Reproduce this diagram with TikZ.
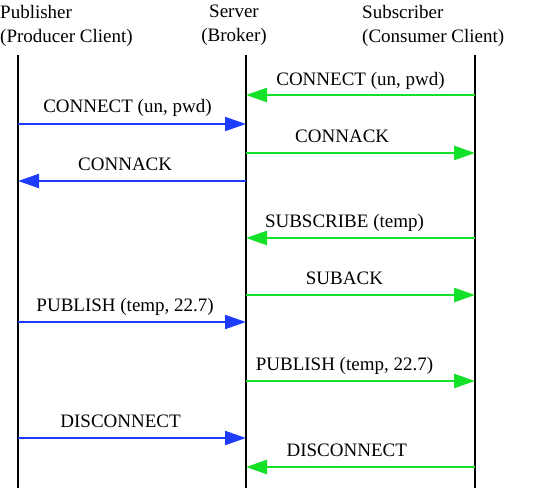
\documentclass[tikz,border=0pt]{standalone}
\usepackage{fontspec}
\setmainfont{Liberation Serif}
\usetikzlibrary{arrows.meta}

\definecolor{msgblue}{RGB}{30,60,255}
\definecolor{msggreen}{RGB}{20,225,40}

\tikzset{
    life/.style={black, line width=2pt},
    pubmsg/.style={msgblue, line width=2pt, -{Triangle[length=21pt,width=14pt]}},
    submsg/.style={msggreen, line width=2.5pt, -{Triangle[length=21pt,width=14pt]}},
    lbl/.style={anchor=base, inner sep=0pt, text=black, font=\fontsize{19}{22}\selectfont},
    head/.style={anchor=north west, inner sep=0pt, align=left, font=\fontsize{19}{24}\selectfont}
}

\begin{document}
\begin{tikzpicture}[x=1pt, y=-1pt]
            \useasboundingbox (0,0) rectangle (546,488);
            % headers
            \node[head] (pub) at (0,5) {Publisher\\(Producer Client)};
            \node[head, align=center, anchor=north] (srv) at (234,5) {Server\\(Broker)};
            \node[head] (sub) at (362,5) {Subscriber\\(Consumer Client)};
            % lifelines
            \coordinate (ptop) at (18,55);  \coordinate (pbot) at (18,488);
            \coordinate (stop) at (246,55); \coordinate (sbot) at (246,488);
            \coordinate (ctop) at (475,55); \coordinate (cbot) at (475,488);
            \draw[life] (ptop) -- (pbot);
            \draw[life] (stop) -- (sbot);
            \draw[life] (ctop) -- (cbot);
            % message rows
            \foreach \n/\y in {1/95,2/124,3/153,4/181,5/238,6/295,7/322,8/381,9/438,10/467} {
                \coordinate (p\n) at (18,\y);
                \coordinate (s\n) at (246,\y);
                \coordinate (c\n) at (475,\y);
            }
            % messages
            \draw[submsg] (c1) -- node[lbl, pos=0.5, yshift=10pt] {CONNECT (un, pwd)} (s1);
            \draw[pubmsg] (p2) -- node[lbl, pos=0.48, yshift=12pt] {CONNECT (un, pwd)} (s2);
            \draw[submsg] (s3) -- node[lbl, pos=0.42, yshift=11pt] {CONNACK} (c3);
            \draw[pubmsg] (s4) -- node[lbl, pos=0.53, yshift=11pt] {CONNACK} (p4);
            \draw[submsg] (c5) -- node[lbl, pos=0.57, yshift=11pt] {SUBSCRIBE (temp)} (s5);
            \draw[submsg] (s6) -- node[lbl, pos=0.43, yshift=11pt] {SUBACK} (c6);
            \draw[pubmsg] (p7) -- node[lbl, pos=0.47, yshift=11pt] {PUBLISH (temp, 22.7)} (s7);
            \draw[submsg] (s8) -- node[lbl, pos=0.43, yshift=11pt] {PUBLISH (temp, 22.7)} (c8);
            \draw[pubmsg] (p9) -- node[lbl, pos=0.45, yshift=11pt] {DISCONNECT} (s9);
            \draw[submsg] (c10) -- node[lbl, pos=0.56, yshift=11pt] {DISCONNECT} (s10);
        \end{tikzpicture}
\end{document}
